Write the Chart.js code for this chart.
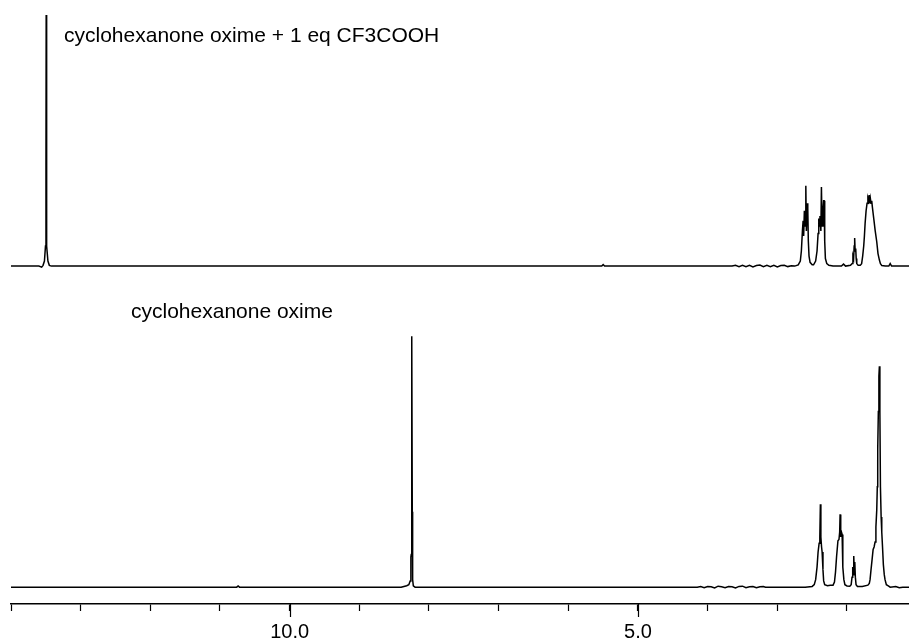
<!DOCTYPE html>
<html>
<head>
<meta charset="utf-8">
<script src="https://cdn.jsdelivr.net/npm/chart.js@4/dist/chart.umd.min.js"></script>
<style>
  html, body { margin: 0; padding: 0; background: #fff; }
  #wrap { width: 909px; height: 641px; position: relative; }
</style>
</head>
<body>
<div id="wrap"><canvas id="nmr"></canvas></div>
<script>
// chemical shift range (ppm), left edge to right edge
const ppmLeft = 14.0;
const ppmRight = 1.11;
const labelledTicks = [10, 5];
const traceLabels = ["cyclohexanone oxime + 1 eq CF3COOH", "cyclohexanone oxime"];

// upper trace: oxime + TFA (intensity, tallest peak = 100)
const topPpm = [
  14.0, 13.75, 13.6, 13.56, 13.54, 13.52, 13.505, 13.498, 13.495, 13.492, 13.485, 13.47, 13.45, 13.42, 13.2,
  10.5, 8.0, 5.52, 5.5, 5.48, 4.2,
  3.65, 3.6, 3.55, 3.5, 3.45, 3.4, 3.35, 3.3, 3.25, 3.2, 3.15, 3.1, 3.05, 3.0, 2.95, 2.9, 2.85, 2.8,
  2.75, 2.7, 2.67, 2.655, 2.64, 2.63, 2.622, 2.612, 2.6, 2.591, 2.583, 2.572, 2.563, 2.555, 2.545, 2.53, 2.5,
  2.48, 2.45, 2.43, 2.415, 2.405, 2.397, 2.388, 2.375, 2.367, 2.358, 2.345, 2.335, 2.328, 2.32, 2.31, 2.29, 2.26, 2.2,
  2.08, 2.05, 2.02, 1.95, 1.925, 1.915, 1.905, 1.897, 1.89, 1.883, 1.875, 1.868, 1.86, 1.84,
  1.81, 1.79, 1.775, 1.76, 1.75, 1.74, 1.726, 1.712, 1.7, 1.69, 1.683, 1.675, 1.665, 1.655, 1.645, 1.636,
  1.625, 1.612, 1.595, 1.573, 1.555, 1.535, 1.52, 1.5, 1.45, 1.4, 1.38, 1.36, 1.2, 1.11,
];
const topIntensity = [
  0, 0, 0, -0.4, 0.3, 2, 8, 40, 100, 40, 8, 2, 0.3, 0, 0,
  0, 0, 0, 0.6, 0, 0,
  0, 0.3, -0.2, 0.3, -0.2, 0.3, -0.3, 0.2, 0.4, -0.2, 0.3, -0.2, 0.3, -0.3, 0.2, 0.3, -0.2, 0.1,
  0, 0.5, 2, 6, 14, 18, 12, 22, 16, 32, 14, 25, 23, 10, 4, 1.5, 0.5,
  0.5, 2, 6, 13, 19, 16, 20, 14, 31.5, 16, 22, 26, 26, 10, 3, 1, 0.3, 0,
  0, 0.8, 0, 0.3, 1, 4, 3, 8, 11.2, 6, 7, 3, 1, 0.3,
  0.3, 1, 4, 8, 12, 17, 22, 25, 27, 26, 28.3, 25, 27, 25, 26, 23.6,
  21, 18, 14, 9.7, 5, 2.4, 1, 0.2, 0, 0, 1, 0, 0, 0,
];

// lower trace: cyclohexanone oxime
const bottomPpm = [
  14.0, 12.0, 10.76, 10.74, 10.72, 9.0, 8.4, 8.36, 8.32, 8.29, 8.27, 8.26, 8.255, 8.25, 8.245, 8.24, 8.235, 8.225, 8.2, 7.0,
  4.15, 4.1, 4.05, 4.0, 3.95, 3.9, 3.85, 3.8, 3.75, 3.7, 3.65, 3.6, 3.55, 3.5, 3.45, 3.4, 3.35, 3.3, 3.25, 3.2, 3.17,
  2.9, 2.6, 2.5, 2.47, 2.45, 2.43, 2.415, 2.4, 2.39, 2.382, 2.375, 2.365, 2.357, 2.345, 2.335, 2.32, 2.28, 2.24,
  2.2, 2.18, 2.165, 2.15, 2.13, 2.115, 2.105, 2.099, 2.09, 2.08, 2.07, 2.06, 2.045, 2.03, 2.0,
  1.96, 1.94, 1.928, 1.918, 1.91, 1.903, 1.896, 1.888, 1.88, 1.87, 1.85, 1.78,
  1.7, 1.68, 1.669, 1.655, 1.64, 1.625, 1.611, 1.597, 1.585, 1.573, 1.565, 1.559, 1.55, 1.542, 1.535,
  1.528, 1.52, 1.51, 1.501, 1.49, 1.478, 1.465, 1.454, 1.435, 1.407, 1.38, 1.3, 1.25, 1.2, 1.11,
];
const bottomIntensity = [
  0, 0, 0, 0.5, 0, 0, 0, 0.3, 0.6, 1, 2.5, 12, 13, 40, 100, 30, 3, 0.5, 0, 0,
  0, 0.3, -0.2, 0.3, 0.2, -0.3, 0.4, 0.2, -0.2, 0.3, 0.2, -0.3, 0.3, 0.4, -0.2, 0.2, 0.3, -0.2, 0.2, 0.3, 0,
  0, 0, 0.3, 1, 3, 8, 14, 17.5, 20, 33, 20, 16, 14, 7, 2.5, 1, 0.6, 0.8,
  0.8, 2, 6, 12, 18.5, 19, 22, 29, 20, 22, 21, 8, 3, 1, 0.5,
  0.4, 1, 4, 8, 5, 12.4, 7, 10, 4, 1, 0.3, 0.3,
  0.8, 1.5, 3, 7, 11, 15, 16, 18, 24, 30.7, 40, 55, 70, 84, 88,
  70, 40, 28, 22, 16, 9, 5, 3, 1, 0.5, 0, 0.3, -0.2, 0, 0,
];

function toPoints(xs, ys) {
  return xs.map((x, i) => ({ x, y: ys[i] }));
}

const font = "'Liberation Sans', Arial, sans-serif";

// trace captions + the longer major ticks under 10.0 and 5.0
const overlay = {
  id: "overlay",
  afterDraw(chart) {
    const { ctx, scales } = chart;
    const x = scales.x;
    ctx.save();
    ctx.strokeStyle = "#000";
    ctx.lineWidth = 1.2;
    labelledTicks.forEach((v) => {
      const px = Math.round(x.getPixelForValue(v)) + 0.5;
      ctx.beginPath();
      ctx.moveTo(px, x.top);
      ctx.lineTo(px, x.top + 13);
      ctx.stroke();
    });
    ctx.fillStyle = "#000";
    ctx.font = `21px ${font}`;
    ctx.textBaseline = "alphabetic";
    ctx.fillText(traceLabels[0], 64, 42);
    ctx.fillText(traceLabels[1], 131, 318);
    ctx.restore();
  },
};

new Chart(document.getElementById("nmr"), {
  type: "scatter",
  data: {
    datasets: [
      { data: toPoints(topPpm, topIntensity), yAxisID: "yTop" },
      { data: toPoints(bottomPpm, bottomIntensity), yAxisID: "yBottom" },
    ],
  },
  options: {
    responsive: true,
    maintainAspectRatio: false,
    animation: false,
    showLine: true,
    layout: { padding: { left: 11, right: 0, top: 0, bottom: 0 } },
    elements: {
      point: { radius: 0, hoverRadius: 0 },
      line: { borderColor: "#000", borderWidth: 1.5, tension: 0 },
    },
    plugins: { legend: { display: false }, tooltip: { enabled: false } },
    scales: {
      x: {
        type: "linear",
        reverse: true,
        min: ppmRight,
        max: ppmLeft,
        afterBuildTicks: (scale) => {
          scale.ticks = scale.ticks.filter((t) => Number.isInteger(t.value));
        },
        afterFit: (scale) => {
          scale.height = 37;
        },
        ticks: {
          stepSize: 1,
          autoSkip: false,
          maxRotation: 0,
          padding: 11,
          color: "#000",
          font: { family: font, size: 20, lineHeight: 1 },
          callback: (v) => (labelledTicks.includes(v) ? v.toFixed(1) : ""),
        },
        grid: { drawOnChartArea: false, tickLength: 7, tickColor: "#000", tickWidth: 1.2 },
        border: { color: "#000", width: 1.5 },
      },
      yTop: { display: false, min: -134.6, max: 106 },
      yBottom: { display: false, min: -6.7, max: 233.9 },
    },
  },
  plugins: [overlay],
});
</script>
</body>
</html>
